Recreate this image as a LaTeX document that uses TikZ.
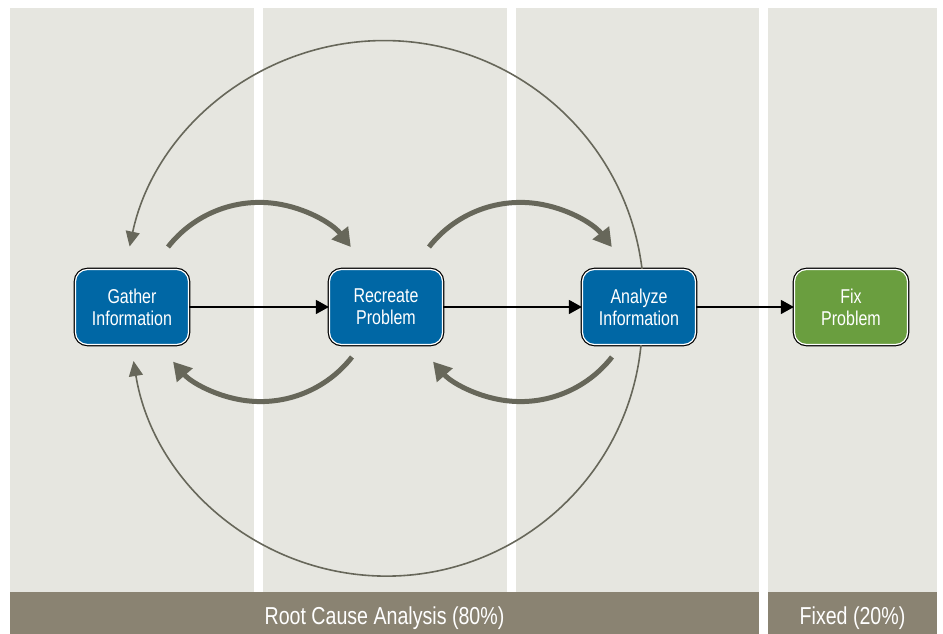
\documentclass[tikz,border=0pt]{standalone}
\usepackage{fontspec}
\setmainfont{Liberation Sans}[FakeStretch=0.8]
\usetikzlibrary{arrows.meta}
\definecolor{panel}{RGB}{230,230,224}
\definecolor{bandbrown}{RGB}{138,131,114}
\definecolor{arcgray}{RGB}{103,103,90}
\definecolor{stepblue}{RGB}{0,103,165}
\definecolor{stepgreen}{RGB}{106,158,63}
\begin{document}
\begin{tikzpicture}[x=1pt,y=1pt,
  stepbox/.style={rounded corners=12pt,minimum width=113pt,minimum height=75pt,inner sep=0pt,align=center,
    text=white,font=\fontsize{20}{22}\selectfont,draw=white,line width=1.2pt,preaction={draw=black,line width=3.6pt}},
  flow/.style={line width=1.4pt,-{Triangle[length=13pt,width=14pt]}},
  bigloop/.style={draw=arcgray,line width=5pt,-{Triangle[length=18pt,width=20pt]}},
  wideloop/.style={draw=arcgray,line width=1.6pt,-{Triangle[length=15pt,width=14pt]}},
  bandtext/.style={text=white,font=\fontsize{24.5}{26}\selectfont}]
\useasboundingbox (0,0) rectangle (943,634);
\fill[panel] (10,42) rectangle (254,626);
\fill[panel] (263,42) rectangle (507,626);
\fill[panel] (516,42) rectangle (759,626);
\fill[panel] (768,42) rectangle (937,626);
\fill[bandbrown] (10,0) rectangle (759,42);
\fill[bandbrown] (768,0) rectangle (937,42);
\node[bandtext] (rca) at (384.5,16) {Root Cause Analysis (80\%)};
\node[bandtext] (fxd) at (852.5,16) {Fixed (20\%)};
\node[stepbox,fill=stepblue] (gat) at (132,327) {Gather\\Information};
\node[stepbox,fill=stepblue] (rec) at (386,327) {Recreate\\Problem};
\node[stepbox,fill=stepblue] (ana) at (639,327) {Analyze\\Information};
\node[stepbox,fill=stepgreen] (fix) at (851,327) {Fix\\Problem};
\draw[flow] (gat) -- (rec);
\draw[flow] (rec) -- (ana);
\draw[flow] (ana) -- (fix);
\draw[bigloop] ([shift={(36,60)}]gat.center) arc[start angle=142,end angle=38,radius=116];
\draw[bigloop] ([shift={(43,60)}]rec.center) arc[start angle=142,end angle=38,radius=116];
\draw[bigloop] ([shift={(-34,-50)}]rec.center) arc[start angle=-38,end angle=-139,radius=116];
\draw[bigloop] ([shift={(-27,-50)}]ana.center) arc[start angle=-38,end angle=-139,radius=116];
\draw[wideloop] ([shift={(3,0)}]ana.north) arc[start angle=7,end angle=168,radius=260];
\draw[wideloop] ([shift={(2,0)}]ana.south) arc[start angle=-5.6,end angle=-170.8,radius=256];
\end{tikzpicture}
\end{document}
